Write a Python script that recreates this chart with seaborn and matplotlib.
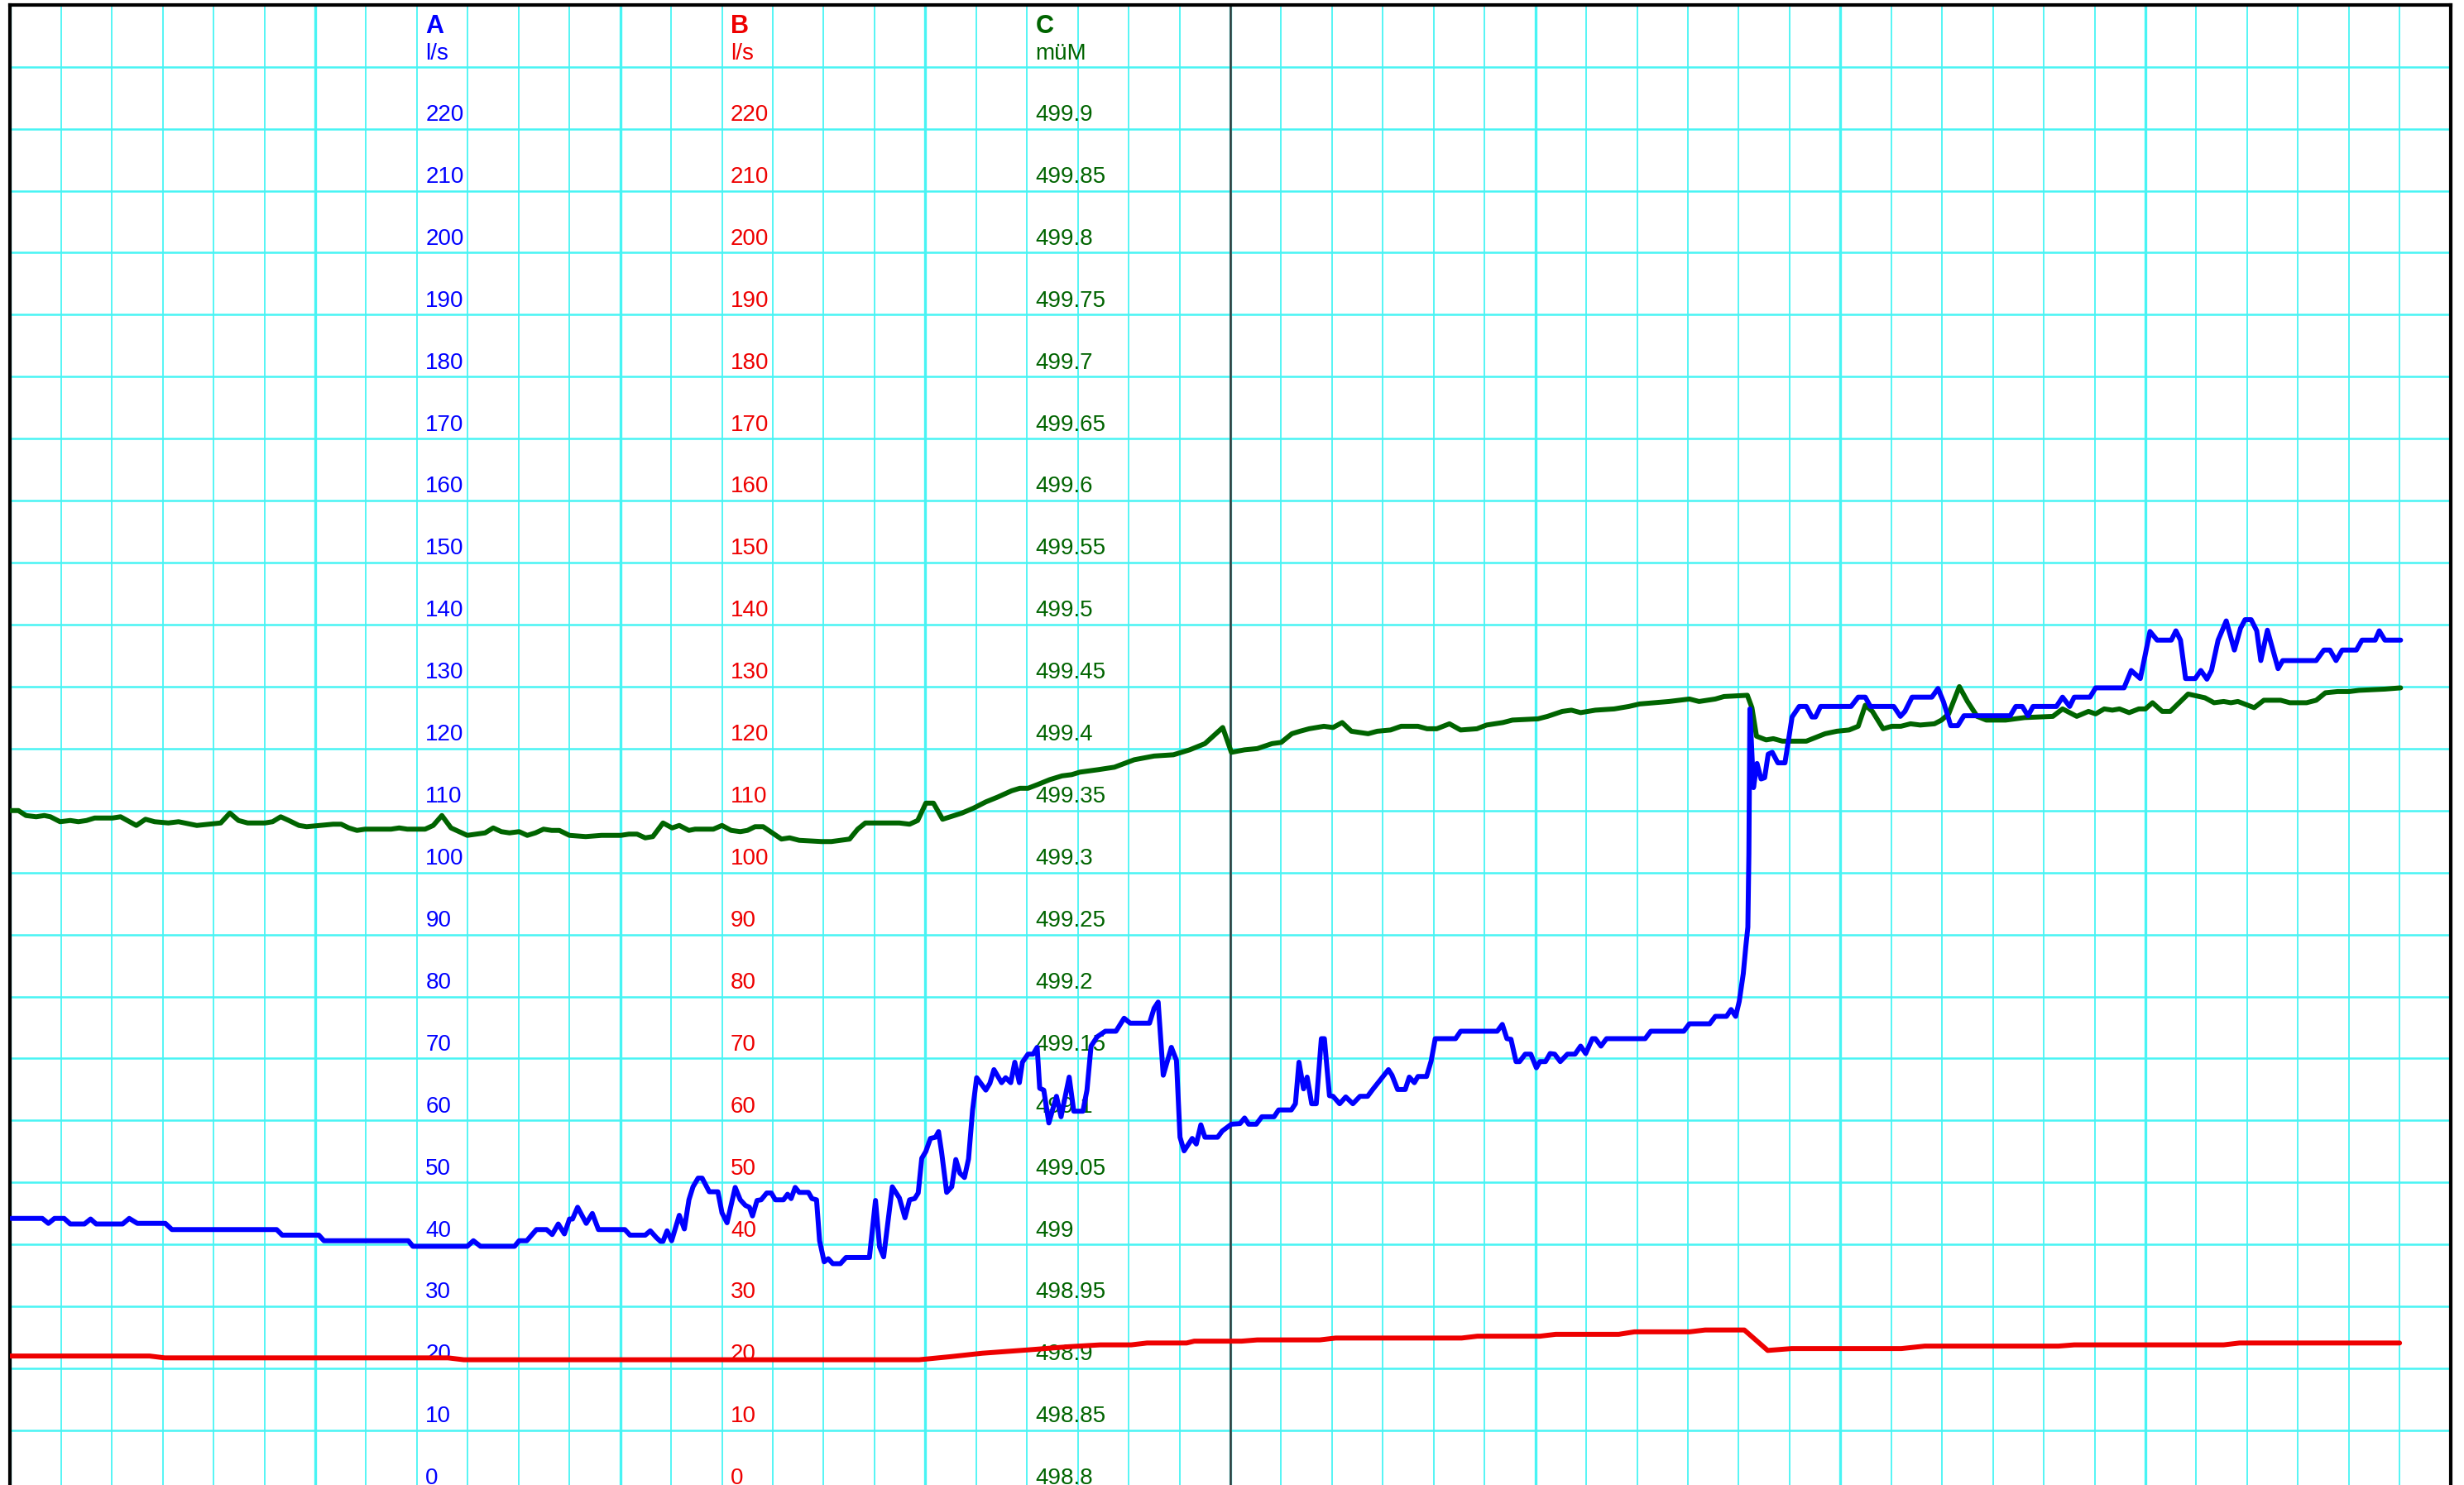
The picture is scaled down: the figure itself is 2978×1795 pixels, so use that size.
import matplotlib
matplotlib.use("Agg")
import matplotlib.pyplot as plt
import seaborn as sns
import numpy as np

# time runs over 48 grid steps, the cursor sits at step 24
blue_t = [0.02, 0.63, 0.75, 0.87, 1.06, 1.18, 1.46, 1.58, 1.69, 2.21, 2.34, 2.50, 3.05, 3.18, 5.24, 5.35,
          6.07, 6.17, 7.83, 7.92, 8.99, 9.11, 9.25, 9.92, 10.01, 10.16, 10.35, 10.55, 10.66, 10.78, 10.90,
          11.00, 11.06, 11.16, 11.33, 11.45, 11.57, 12.09, 12.19, 12.49, 12.59, 12.71, 12.79, 12.84, 12.92,
          13.01, 13.16, 13.26, 13.35, 13.43, 13.53, 13.61, 13.75, 13.92, 14.00, 14.10, 14.26, 14.36, 14.46,
          14.54, 14.60, 14.69, 14.77, 14.88, 14.97, 15.05, 15.21, 15.29, 15.36, 15.44, 15.52, 15.70, 15.77,
          15.86, 15.92, 16.01, 16.09, 16.18, 16.33, 16.44, 16.90, 17.02, 17.10, 17.18, 17.26, 17.35, 17.49,
          17.60, 17.69, 17.79, 17.86, 17.93, 18.01, 18.10, 18.20, 18.26, 18.32, 18.42, 18.52, 18.60, 18.68,
          18.77, 18.85, 18.93, 19.01, 19.19, 19.27, 19.35, 19.50, 19.58, 19.68, 19.76, 19.85, 19.91, 20.02,
          20.12, 20.20, 20.25, 20.33, 20.43, 20.58, 20.67, 20.83, 20.92, 21.10, 21.18, 21.26, 21.38, 21.54,
          21.75, 21.91, 22.03, 22.41, 22.50, 22.58, 22.68, 22.84, 22.94, 23.01, 23.09, 23.25, 23.33, 23.42,
          23.50, 23.75, 23.84, 24.02, 24.19, 24.28, 24.36, 24.51, 24.62, 24.86, 24.95, 25.20, 25.28, 25.35,
          25.44, 25.51, 25.60, 25.69, 25.79, 25.85, 25.95, 26.02, 26.15, 26.27, 26.41, 26.55, 26.70, 26.80,
          27.11, 27.18, 27.29, 27.44, 27.52, 27.62, 27.69, 27.86, 27.95, 28.03, 28.43, 28.53, 29.25, 29.35,
          29.44, 29.52, 29.62, 29.69, 29.80, 29.91, 30.02, 30.09, 30.20, 30.29, 30.38, 30.49, 30.63, 30.78,
          30.89, 30.99, 31.12, 31.18, 31.29, 31.40, 32.16, 32.27, 32.92, 33.03, 33.43, 33.54, 33.76, 33.85,
          33.94, 34.01, 34.09, 34.14, 34.18, 34.20, 34.22, 34.29, 34.36, 34.44, 34.51, 34.58, 34.66, 34.77,
          34.91, 35.05, 35.19, 35.33, 35.44, 35.51, 35.61, 36.21, 36.35, 36.49, 36.59, 37.05, 37.18, 37.27,
          37.41, 37.80, 37.92, 38.03, 38.17, 38.31, 38.43, 39.34, 39.45, 39.58, 39.69, 39.79, 40.25, 40.37,
          40.51, 40.60, 40.91, 41.02, 41.58, 41.72, 41.90, 42.09, 42.23, 42.51, 42.60, 42.69, 42.79, 42.98,
          43.09, 43.21, 43.30, 43.43, 43.59, 43.75, 43.87, 43.96, 44.08, 44.19, 44.27, 44.40, 44.61, 44.70,
          45.36, 45.51, 45.63, 45.75, 45.87, 46.15, 46.26, 46.52, 46.60, 46.71, 47.02]
blue_a = [44.2, 44.2, 43.4, 44.2, 44.2, 43.3, 43.3, 44.1, 43.3, 43.3, 44.2, 43.4, 43.4, 42.4, 42.4, 41.5,
          41.5, 40.6, 40.6, 39.7, 39.7, 40.6, 39.7, 39.7, 40.6, 40.6, 42.4, 42.4, 41.6, 43.3, 41.7,
          44.1, 44.1, 46.0, 43.4, 45.0, 42.4, 42.4, 41.5, 41.5, 42.2, 41.1, 40.5, 40.5, 42.2,
          40.6, 44.7, 42.5, 47.2, 49.3, 50.7, 50.7, 48.5, 48.5, 45.1, 43.5, 49.2, 47.2, 46.3,
          46.0, 44.6, 47.1, 47.2, 48.3, 48.3, 47.2, 47.2, 48.1, 47.4, 49.2, 48.4, 48.4, 47.4,
          47.2, 40.6, 37.2, 37.7, 36.9, 36.9, 37.9, 37.9, 47.1, 39.6, 38.0, 43.3, 49.3, 47.5,
          44.3, 47.2, 47.4, 48.3, 53.9, 55.0, 57.1, 57.3, 58.2, 54.9, 48.4, 49.3, 53.7, 51.5,
          50.8, 53.8, 61.7, 66.9, 64.9, 66.0, 68.2, 66.1, 66.9, 66.1, 69.4, 66.1, 69.4, 70.7,
          70.7, 71.8, 65.2, 64.9, 59.6, 63.9, 60.6, 67.0, 61.5, 61.5, 64.9, 72.0, 73.5, 74.4,
          74.4, 76.5, 75.7, 75.7, 78.1, 79.1, 67.3, 71.8, 69.7, 57.3, 55.1, 57.1, 56.2, 59.3,
          57.3, 57.3, 58.3, 59.4, 59.5, 60.4, 59.4, 59.4, 60.6, 60.6, 61.7, 61.7, 62.7, 69.4,
          65.1, 67.0, 62.7, 62.7, 73.2, 73.2, 64.0, 63.9, 62.7, 63.8, 62.7, 63.9, 63.9, 65.0,
          68.2, 67.3, 65.0, 65.0, 67.0, 66.1, 67.1, 67.1, 69.6, 73.2, 73.2, 74.4, 74.4, 75.5,
          73.2, 73.1, 69.5, 69.5, 70.7, 70.7, 68.5, 69.5, 69.5, 70.8, 70.7, 69.5, 70.7, 70.7,
          72.0, 70.8, 73.2, 73.2, 72.0, 73.2, 73.2, 74.4, 74.4, 75.6, 75.6, 76.8, 76.8, 77.9,
          76.8, 79.2, 83.7, 88.1, 91.2, 103.0, 126.4, 113.7, 117.6, 115.1, 115.3, 119.1, 119.4, 117.7,
          117.7, 125.1, 126.8, 126.8, 125.1, 125.1, 126.8, 126.8, 128.3, 128.3, 126.8, 126.8, 125.2, 126.0,
          128.3, 128.3, 129.7, 127.5, 123.7, 123.7, 125.3, 125.3, 126.8, 126.8, 125.3, 126.8, 126.8, 128.3,
          126.8, 128.3, 128.3, 129.8, 129.8, 132.6, 131.3, 138.9, 137.5, 137.5, 139.0, 137.5, 131.3, 131.3,
          132.6, 131.2, 132.6, 137.5, 140.6, 135.9, 139.4, 140.8, 140.8, 139.0, 134.2, 139.1, 132.9, 134.2,
          134.2, 135.9, 135.9, 134.2, 135.9, 135.9, 137.5, 137.5, 139.0, 137.5, 137.5]

red_t = [0.0, 2.74, 3.04, 8.61, 8.92, 17.88, 18.50, 19.12, 20.04, 20.82, 21.44, 22.05, 22.36, 23.14,
         23.29, 24.22, 24.53, 25.76, 26.07, 28.55, 28.86, 30.09, 30.40, 31.64, 31.95, 33.03, 33.34,
         34.11, 34.57, 35.04, 37.20, 37.66, 40.29, 40.60, 43.54, 43.85, 47.0]
red_b = [22.0, 22.0, 21.7, 21.7, 21.4, 21.4, 21.9, 22.45, 23.0, 23.5, 23.8, 23.8, 24.1, 24.1,
         24.4, 24.4, 24.6, 24.6, 24.9, 24.9, 25.2, 25.2, 25.5, 25.5, 25.9, 25.9, 26.2,
         26.2, 22.9, 23.2, 23.2, 23.6, 23.6, 23.8, 23.8, 24.1, 24.1]

green_t = [0.02, 0.16, 0.31, 0.51, 0.67, 0.79, 0.98, 1.18, 1.34, 1.50, 1.66, 2.01, 2.17, 2.48, 2.66, 2.84,
           3.11, 3.31, 3.67, 4.14, 4.32, 4.49, 4.67, 5.01, 5.16, 5.32, 5.48, 5.68, 5.83, 6.35, 6.51, 6.66,
           6.82, 6.98, 7.49, 7.65, 7.81, 8.16, 8.32, 8.49, 8.67, 8.99, 9.34, 9.50, 9.66, 9.82, 10.01, 10.17,
           10.33, 10.49, 10.65, 10.80, 11.00, 11.32, 11.63, 12.01, 12.17, 12.33, 12.49, 12.64, 12.84, 13.02,
           13.16, 13.35, 13.47, 13.83, 14.00, 14.18, 14.36, 14.50, 14.65, 14.81, 15.17, 15.33, 15.52, 15.96,
           16.15, 16.51, 16.67, 16.82, 16.98, 17.49, 17.69, 17.85, 18.01, 18.16, 18.34, 18.72, 18.95, 19.19,
           19.43, 19.70, 19.86, 20.02, 20.21, 20.45, 20.69, 20.88, 21.04, 21.40, 21.72, 22.11, 22.50, 22.88,
           23.20, 23.50, 23.85, 24.02, 24.28, 24.53, 24.82, 25.00, 25.21, 25.37, 25.55, 25.84, 26.02, 26.20,
           26.38, 26.71, 26.89, 27.15, 27.36, 27.69, 27.87, 28.06, 28.31, 28.53, 28.85, 29.04, 29.36, 29.55,
           30.05, 30.24, 30.53, 30.71, 30.89, 31.18, 31.55, 31.84, 32.05, 32.63, 33.03, 33.22, 33.54, 33.71,
           34.17, 34.26, 34.35, 34.54, 34.68, 34.86, 35.33, 35.70, 35.93, 36.17, 36.35, 36.49, 36.63, 36.84,
           37.01, 37.19, 37.38, 37.57, 37.85, 37.99, 38.13, 38.34, 38.50, 38.69, 38.87, 39.25, 39.62, 40.18,
           40.37, 40.65, 40.88, 41.02, 41.19, 41.35, 41.49, 41.68, 41.87, 42.00, 42.14, 42.33, 42.49, 42.84,
           43.17, 43.35, 43.54, 43.68, 43.82, 44.14, 44.33, 44.47, 44.66, 44.84, 45.17, 45.36, 45.54, 45.78,
           46.01, 46.20, 46.71, 47.02]
green_c = [499.350, 499.350, 499.346, 499.345, 499.346, 499.345, 499.341, 499.342, 499.341, 499.342,
           499.344, 499.344, 499.345, 499.338, 499.343, 499.341, 499.340, 499.341, 499.338, 499.340,
           499.348, 499.342, 499.340, 499.340, 499.341, 499.345, 499.342, 499.338, 499.337, 499.339,
           499.339, 499.336, 499.334, 499.335, 499.335, 499.336, 499.335, 499.335, 499.338, 499.346,
           499.336, 499.330, 499.332, 499.336, 499.333, 499.332, 499.333, 499.330, 499.332, 499.335,
           499.334, 499.334, 499.330, 499.329, 499.330, 499.330, 499.331, 499.331, 499.328, 499.329,
           499.340, 499.336, 499.338, 499.334, 499.335, 499.335, 499.338, 499.334, 499.333, 499.334,
           499.337, 499.337, 499.327, 499.328, 499.326, 499.325, 499.325, 499.327, 499.335, 499.340,
           499.340, 499.340, 499.339, 499.342, 499.356, 499.356, 499.343, 499.348, 499.352, 499.357,
           499.361, 499.366, 499.368, 499.368, 499.371, 499.375, 499.378, 499.379, 499.381, 499.383,
           499.385, 499.391, 499.394, 499.395, 499.399, 499.404, 499.417, 499.397, 499.399, 499.400,
           499.404, 499.405, 499.412, 499.414, 499.416, 499.418, 499.417, 499.421, 499.414, 499.412,
           499.414, 499.415, 499.418, 499.418, 499.416, 499.416, 499.420, 499.415, 499.416, 499.419,
           499.421, 499.423, 499.424, 499.426, 499.430, 499.431, 499.429, 499.431, 499.432, 499.434,
           499.436, 499.438, 499.440, 499.438, 499.440, 499.442, 499.443, 499.433, 499.410, 499.407,
           499.408, 499.406, 499.406, 499.412, 499.414, 499.415, 499.418, 499.435, 499.430, 499.416,
           499.418, 499.418, 499.420, 499.419, 499.420, 499.423, 499.428, 499.450, 499.438, 499.426,
           499.423, 499.423, 499.425, 499.426, 499.432, 499.426, 499.430, 499.428, 499.432, 499.431,
           499.432, 499.429, 499.432, 499.432, 499.437, 499.430, 499.430, 499.444, 499.441, 499.437,
           499.438, 499.437, 499.438, 499.433, 499.439, 499.439, 499.439, 499.437, 499.437, 499.439,
           499.445, 499.446, 499.446, 499.447, 499.448, 499.449]

a_ticks = list(range(0, 230, 10))
b_ticks = list(range(0, 230, 10))
c_ticks = [498.8, 498.85, 498.9, 498.95, 499.0, 499.05, 499.1, 499.15, 499.2, 499.25, 499.3, 499.35,
           499.4, 499.45, 499.5, 499.55, 499.6, 499.65, 499.7, 499.75, 499.8, 499.85, 499.9]
c_labels = ["498.8", "498.85", "498.9", "498.95", "499", "499.05", "499.1", "499.15", "499.2", "499.25",
            "499.3", "499.35", "499.4", "499.45", "499.5", "499.55", "499.6", "499.65", "499.7", "499.75",
            "499.8", "499.85", "499.9"]

BLUE = "#0000ff"
RED = "#ee0000"
GREEN = "#006400"
GRID = "#48f4f4"

sns.set_theme(style="white")
plt.rcParams["font.family"] = ["Liberation Sans", "DejaVu Sans"]

fig = plt.figure(figsize=(29.78, 17.95), dpi=100)
ax = fig.add_axes([12.4 / 2978, 0, 2949.2 / 2978, 1789.2 / 1795])

# chart paper grid
ax.set_xticks(np.arange(0, 49, 6))
ax.set_xticks(np.arange(0, 49, 1), minor=True)
ax.set_yticks(np.arange(0, 241, 10))
ax.set_xlim(0, 48)
ax.set_ylim(1.19, 240)
ax.grid(which="major", axis="x", color=GRID, lw=2.4)
ax.grid(which="minor", axis="x", color=GRID, lw=1.3)
ax.grid(which="major", axis="y", color=GRID, lw=1.8)
ax.set_axisbelow(True)
ax.tick_params(which="both", length=0, labelbottom=False, labelleft=False)
ax.axvline(24, color="#383838", lw=1.8, zorder=0.8)
for side in ["left", "right", "top"]:
    ax.spines[side].set_color("black")
    ax.spines[side].set_linewidth(3)
ax.spines["bottom"].set_visible(False)

axC = ax.twinx()
axC.set_ylim(498.8 + 1.19 / 200, 500.0)
axB = ax.twinx()
axB.set_ylim(1.19, 240)
axA = ax.twinx()
axA.set_ylim(1.19, 240)
for a in [axC, axB, axA]:
    a.set_yticks([])
    for s in a.spines.values():
        s.set_visible(False)


def scale(axis, x, values, labels, color, head, unit):
    for v, lab in zip(values, labels):
        axis.annotate(lab, xy=(x, v), xytext=(7.5, 7), textcoords="offset points",
                      ha="left", va="baseline", color=color, fontsize=20, zorder=1,
                      annotation_clip=False)
    top = values[-1] + (values[1] - values[0])
    axis.annotate(unit, xy=(x, top), xytext=(7.5, 6), textcoords="offset points",
                  ha="left", va="baseline", color=color, fontsize=20, zorder=1)
    axis.annotate(head, xy=(x, top), xytext=(7.5, 29), textcoords="offset points",
                  ha="left", va="baseline", color=color, fontsize=22, fontweight="bold", zorder=1)


scale(ax, 8, a_ticks, [str(v) for v in a_ticks], BLUE, "A", "l/s")
scale(axB, 14, b_ticks, [str(v) for v in b_ticks], RED, "B", "l/s")
scale(axC, 20, c_ticks, c_labels, GREEN, "C", "müM")

sns.lineplot(x=green_t, y=green_c, ax=axC, color=GREEN, linewidth=4.3, estimator=None, sort=False, zorder=2)
sns.lineplot(x=red_t, y=red_b, ax=axB, color=RED, linewidth=4.3, estimator=None, sort=False, zorder=2)
sns.lineplot(x=blue_t, y=blue_a, ax=axA, color=BLUE, linewidth=4.3, estimator=None, sort=False, zorder=2)
for a in [axC, axB, axA]:
    a.set_xlim(0, 48)
    a.set_ylabel("")
    a.set_xlabel("")

fig.savefig("out.png", dpi=100)
